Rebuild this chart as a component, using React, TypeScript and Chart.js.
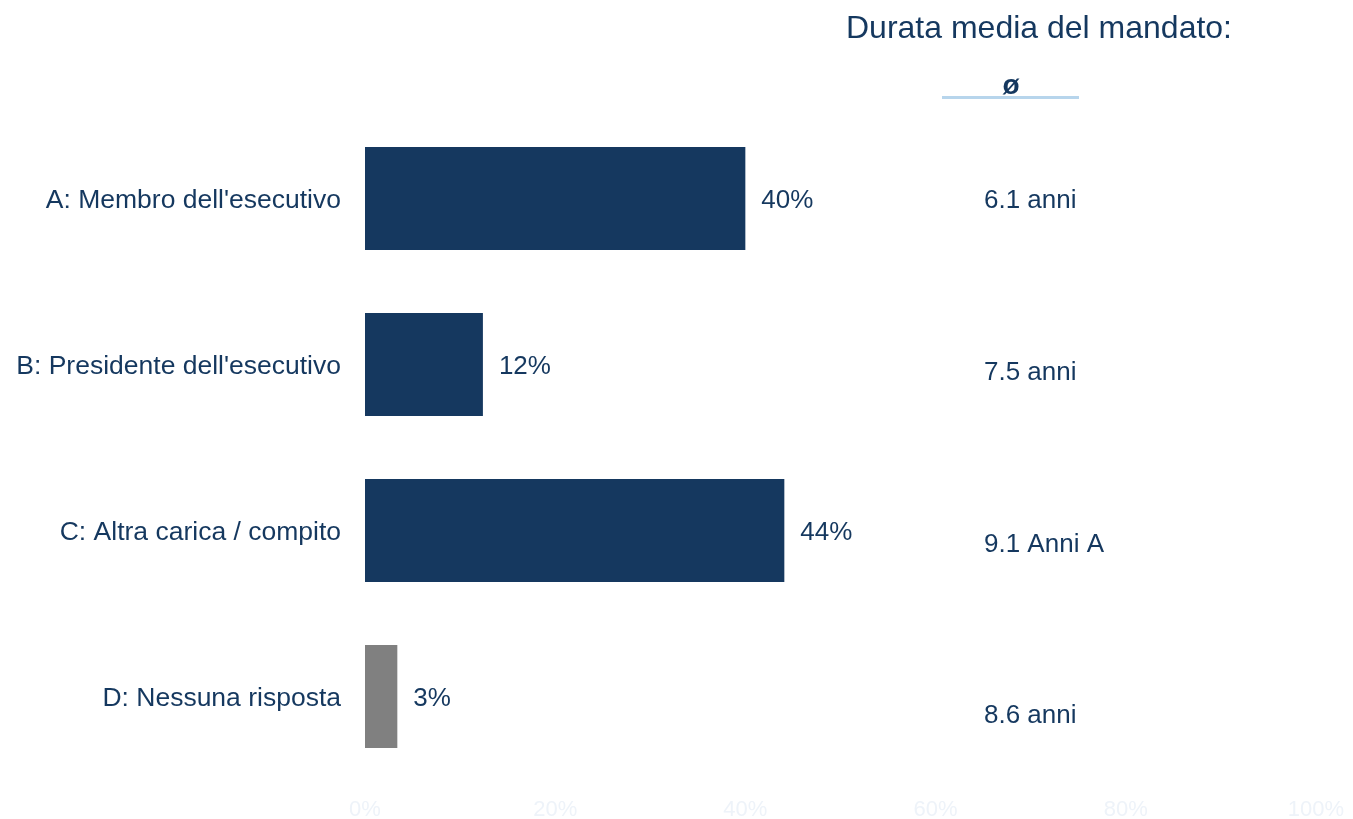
import React, { useEffect, useRef } from "react";
import { Chart, registerables } from "chart.js";

Chart.register(...registerables);

const categories = [
  "A: Membro dell'esecutivo",
  "B: Presidente dell'esecutivo",
  "C: Altra carica / compito",
  "D: Nessuna risposta",
];
const shares = [40, 12.4, 44.1, 3.4];
const shareLabels = ["40%", "12%", "44%", "3%"];
const barColors = ["#15385f", "#15385f", "#15385f", "#808080"];
const durations = ["6.1 anni", "7.5 anni", "9.1 Anni A", "8.6 anni"];
const tickLabels = ["0%", "20%", "40%", "60%", "80%", "100%"];
const sideTitle = "Durata media del mandato:";
const avgSymbol = "ø";

const NAVY = "#15385f";
const FONT = "'Liberation Sans', Arial, sans-serif";

const annotations = {
  id: "annotations",
  afterDatasetsDraw(chart: any) {
    const ctx = chart.ctx;
    const meta = chart.getDatasetMeta(0);
    ctx.save();
    ctx.fillStyle = NAVY;
    ctx.textBaseline = "middle";
    ctx.font = `26px ${FONT}`;
    ctx.textAlign = "left";
    meta.data.forEach((bar: any, i: number) => {
      ctx.fillText(shareLabels[i], bar.x + 16, bar.y + 2);
    });
    // side column
    ctx.font = `32px ${FONT}`;
    ctx.textAlign = "left";
    ctx.fillText(sideTitle, 846, 29);
    ctx.font = `bold 28px ${FONT}`;
    ctx.textAlign = "center";
    ctx.fillText(avgSymbol, 1011, 86);
    ctx.strokeStyle = "#b7d5ec";
    ctx.lineWidth = 3;
    ctx.beginPath();
    ctx.moveTo(942, 97.5);
    ctx.lineTo(1079, 97.5);
    ctx.stroke();
    ctx.font = `26px ${FONT}`;
    ctx.textAlign = "left";
    durations.forEach((d, i) => {
      ctx.fillText(d, 984, 201 + i * 171.7);
    });
    ctx.restore();
  },
};

export default function App() {
  const ref = useRef<HTMLCanvasElement>(null);
  useEffect(() => {
    const chart = new Chart(ref.current!, {
      type: "bar",
      data: {
        labels: categories,
        datasets: [
          {
            data: shares,
            backgroundColor: barColors,
            categoryPercentage: 1,
            barPercentage: 0.62,
          },
        ],
      },
      options: {
        indexAxis: "y",
        animation: false,
        responsive: false,
        layout: { padding: { top: 115.5, right: 31, left: 0, bottom: 0 } },
        plugins: { legend: { display: false }, tooltip: { enabled: false } },
        scales: {
          x: {
            min: 0,
            max: 100,
            grid: { display: false },
            border: { display: false },
            ticks: {
              stepSize: 20,
              color: "#eef3f9",
              font: { size: 22, family: FONT },
              padding: 9,
              maxRotation: 0,
              callback: (_v: any, i: number) => tickLabels[i],
            },
            afterFit: (s: any) => {
              s.height = 39.5;
            },
          },
          y: {
            grid: { display: false },
            border: { display: false },
            ticks: {
              color: NAVY,
              font: { size: 26.5, family: FONT },
              padding: 16,
              labelOffset: 2,
            },
            afterFit: (s: any) => {
              s.width = 365;
            },
          },
        },
      },
      plugins: [annotations],
    });
    return () => chart.destroy();
  }, []);
  return (
    <div style={{ position: "absolute", left: 0, top: 0, width: 1353, height: 819, background: "#fff" }}>
      <canvas ref={ref} width={1353} height={819} />
    </div>
  );
}
